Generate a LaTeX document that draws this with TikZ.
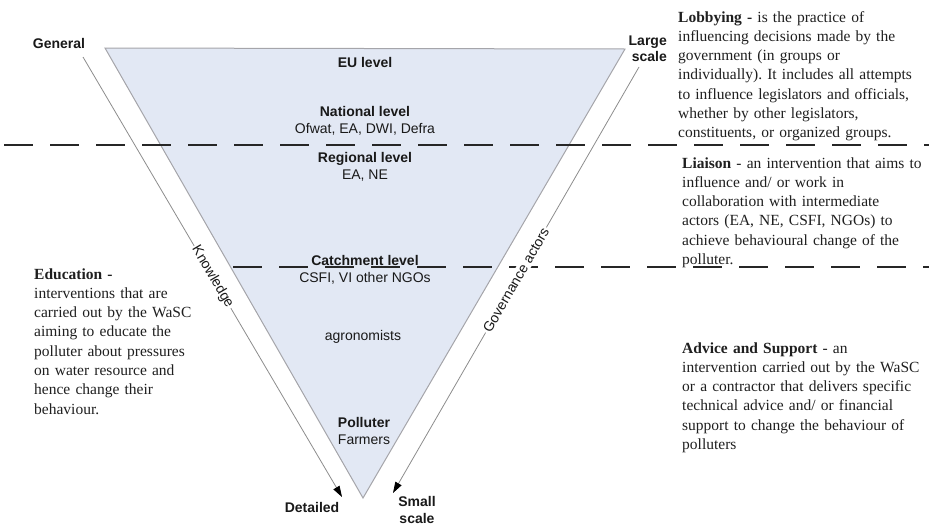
\documentclass[tikz,border=0pt]{standalone}
\usepackage{fontspec}
\setmainfont{Liberation Serif}
\setsansfont{Liberation Sans}
\usetikzlibrary{arrows.meta}
\definecolor{trifill}{RGB}{226,232,244}
\definecolor{triedge}{RGB}{165,165,170}
\frenchspacing
\begin{document}
\begin{tikzpicture}[x=1pt,y=-1pt,
  lbl/.style={font=\sffamily\fontsize{14}{16.5}\selectfont, text=black!90, align=center, inner sep=0pt},
  lblb/.style={lbl, font=\sffamily\bfseries\fontsize{14}{16.5}\selectfont},
  desc/.style={font=\rmfamily\fontsize{15.5}{19.3}\selectfont, text=black!88, align=left, anchor=base west, inner sep=0pt},
  axisarrow/.style={draw=black!45, line width=0.8pt, -{Triangle[length=11pt,width=7pt,color=black,fill=black]}},
  sep/.style={draw=black!85, line width=2.4pt, dash pattern=on 29pt off 17pt}]
\useasboundingbox (0,0) rectangle (929,525);
% triangle
\coordinate (tl) at (105,48);
\coordinate (tr) at (625,49);
\coordinate (ap) at (363,498);
\filldraw[fill=trifill, draw=triedge, line width=1pt] (tl) -- (tr) -- (ap) -- cycle;
% separators
\coordinate (d1a) at (4,145);
\coordinate (d1b) at (929,145);
\coordinate (d2a) at (233,267);
\coordinate (d2b) at (929,267);
\draw[sep] (d1a) -- (d1b);
\draw[sep] (d2a) -- (d2b);
% axes
\coordinate (ks) at (83,57);
\coordinate (ke) at (342,497);
\coordinate (gs) at (639,67);
\coordinate (ge) at (393,493);
\draw[axisarrow] (ks) -- (ke) node[pos=0.5, sloped, lbl, fill=white, inner sep=1.5pt] (know) {Knowledge};
\draw[axisarrow] (gs) -- (ge) node[pos=0.5, sloped, lbl, fill=white, inner sep=1.5pt] (gov) {Governance actors};
% end labels
\node[lblb] (gen) at (59,43) {General};
\node[lblb, align=right, anchor=east] (large) at (667,49) {Large\\scale};
\node[lblb] (det) at (312,507) {Detailed};
\node[lblb] (small) at (417,510) {Small\\scale};
% levels
\node[lblb] (eu) at (365,62) {EU level};
\node[lbl] (nat) at (365,121) {\textbf{National level}\\Ofwat, EA, DWI, Defra};
\node[lbl] (reg) at (365,167) {\textbf{Regional level}\\EA, NE};
\node[lbl] (catch) at (365,270) {\textbf{Catchment level}\\CSFI, VI other NGOs};
\node[lbl] (agro) at (363,337) {agronomists};
\node[lbl] (poll) at (364,431) {\textbf{Polluter}\\Farmers};
% descriptions
\node[desc, text width=250pt] (lob) at (678,22) {\textbf{Lobbying -} is the practice of\\influencing decisions made by the\\government (in groups or\\individually). It includes all attempts\\to influence legislators and officials,\\whether by other legislators,\\constituents, or organized groups.};
\node[desc, text width=246pt] (lia) at (682,168) {\textbf{Liaison} - an intervention that aims to\\influence and/ or work in\\collaboration with intermediate\\actors (EA, NE, CSFI, NGOs) to\\achieve behavioural change of the\\polluter.};
\node[desc, text width=168pt] (edu) at (34,279) {\textbf{Education -}\\interventions that are\\carried out by the WaSC\\aiming to educate the\\polluter about pressures\\on water resource and\\hence change their\\behaviour.};
\node[desc, text width=246pt] (adv) at (682,353) {\textbf{Advice and Support} - an\\intervention carried out by the WaSC\\or a contractor that delivers specific\\technical advice and/ or financial\\support to change the behaviour of\\polluters};
\end{tikzpicture}
\end{document}
